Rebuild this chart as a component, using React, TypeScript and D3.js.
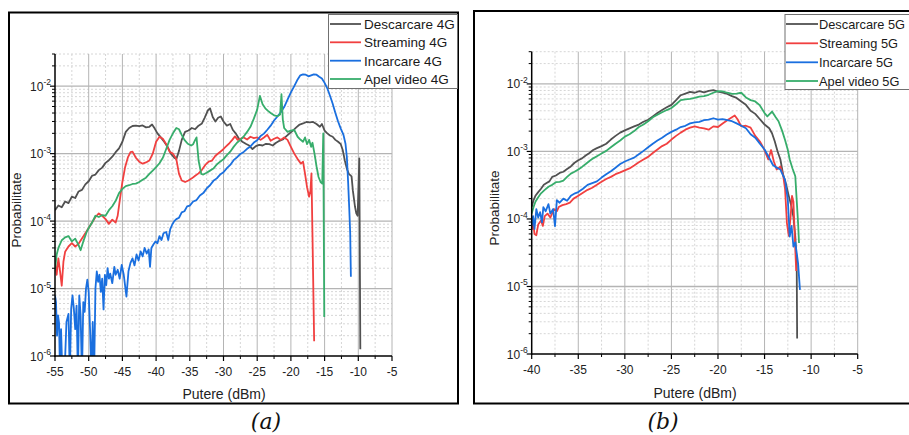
import React from "react";
import * as d3 from "d3";

type Pt = [number, number];

// ---------- labels / ticks ----------
const legend4G = ["Descarcare 4G", "Streaming 4G", "Incarcare 4G", "Apel video 4G"];
const legend5G = ["Descarcare 5G", "Streaming 5G", "Incarcare 5G", "Apel video 5G"];
const xTicks4G = [-55, -50, -45, -40, -35, -30, -25, -20, -15, -10, -5];
const xTicks5G = [-40, -35, -30, -25, -20, -15, -10, -5];
const yTickExps = [-6, -5, -4, -3, -2];
const xTitle = "Putere (dBm)";
const yTitle = "Probabilitate";
const COLORS = ["#515151", "#F14040", "#1A6FDF", "#37AD6B"];

// ---------- 4G data: [dBm, probability] ----------
const descarcare4G: Pt[] = [
  [-55, 1.45e-4], [-54.5, 1.7e-4], [-54, 1.6e-4], [-53.5, 1.95e-4], [-53, 1.85e-4], [-52.5, 2.3e-4],
  [-52, 2.2e-4], [-51.5, 2.75e-4], [-51, 2.9e-4], [-50.5, 3.5e-4], [-50, 3.9e-4], [-49.5, 4.7e-4],
  [-49, 4.9e-4], [-48.5, 5.7e-4], [-48, 6.2e-4], [-47.5, 7.3e-4], [-47, 8.0e-4], [-46.5, 9.0e-4],
  [-46, 1.05e-3], [-45.5, 1.2e-3], [-45, 1.5e-3], [-44.5, 2.1e-3], [-44, 2.4e-3], [-43.5, 2.57e-3],
  [-43, 2.6e-3], [-42.5, 2.55e-3], [-42, 2.62e-3], [-41.5, 2.45e-3], [-41, 2.5e-3], [-40.6, 2.7e-3],
  [-40.2, 2.35e-3], [-39.8, 2.0e-3], [-39.3, 1.74e-3], [-38.8, 1.5e-3], [-38.3, 1.26e-3], [-37.8, 1.0e-3],
  [-37.3, 8.7e-4], [-37, 8.3e-4], [-36.6, 1.1e-3], [-36.2, 1.6e-3], [-35.7, 2.1e-3], [-35.2, 2.2e-3],
  [-34.7, 2.4e-3], [-34.2, 2.3e-3], [-33.7, 2.6e-3], [-33.2, 2.8e-3], [-32.8, 3.4e-3], [-32.3, 4.4e-3],
  [-32, 4.7e-3], [-31.6, 3.5e-3], [-31.2, 3.0e-3], [-30.8, 3.4e-3], [-30.4, 3.55e-3], [-30, 3.0e-3],
  [-29.5, 2.6e-3], [-29, 2.75e-3], [-28.6, 2.24e-3], [-28.2, 2.0e-3], [-27.7, 1.66e-3], [-27.2, 1.5e-3],
  [-26.7, 1.4e-3], [-26.2, 1.32e-3], [-25.7, 1.17e-3], [-25.2, 1.29e-3], [-24.7, 1.35e-3], [-24.2, 1.32e-3],
  [-23.7, 1.4e-3], [-23.2, 1.38e-3], [-22.7, 1.32e-3], [-22.2, 1.45e-3], [-21.7, 1.55e-3], [-21.2, 1.62e-3],
  [-20.7, 1.8e-3], [-20.2, 2.0e-3], [-19.7, 2.2e-3], [-19.2, 2.45e-3], [-18.7, 2.7e-3], [-18.2, 2.8e-3],
  [-17.7, 2.95e-3], [-17.2, 2.9e-3], [-16.7, 2.95e-3], [-16.2, 2.75e-3], [-15.7, 2.5e-3], [-15.4, 2.75e-3],
  [-15, 2.2e-3], [-14.6, 2.0e-3], [-14.2, 1.86e-3], [-13.8, 1.78e-3], [-13.4, 1.6e-3], [-13, 1.5e-3],
  [-12.6, 1.38e-3], [-12.3, 1.12e-3], [-12, 7.9e-4], [-11.7, 6.0e-4], [-11.4, 5.0e-4], [-11, 4.6e-4],
  [-10.8, 2.8e-4], [-10.5, 1.66e-4], [-10.3, 1.3e-4], [-10.1, 1.2e-4], [-9.85, 8.5e-4], [-9.7, 1.26e-6],
];

const streaming4G: Pt[] = [
  [-55, 2.5e-5], [-54.75, 1.6e-5], [-54.5, 2.8e-5], [-54.25, 1.8e-5], [-54, 1.1e-5], [-53.75, 2.5e-5],
  [-53.5, 3.5e-5], [-53, 4.2e-5], [-52.5, 4.7e-5], [-52, 4.2e-5], [-51.5, 4.6e-5], [-51, 5.5e-5],
  [-50.5, 6.6e-5], [-50, 7.9e-5], [-49.5, 9.5e-5], [-49, 1.15e-4], [-48.5, 1.3e-4], [-48, 1.2e-4],
  [-47.5, 1.07e-4], [-47, 9.1e-5], [-46.5, 1.05e-4], [-46, 9.5e-5], [-45.7, 1.2e-4], [-45.4, 2.0e-4],
  [-45, 3.8e-4], [-44.6, 6.3e-4], [-44.2, 8.7e-4], [-43.8, 1.05e-3], [-43.5, 1.07e-3], [-43, 8.7e-4],
  [-42.5, 7.6e-4], [-42, 7.1e-4], [-41.5, 7.4e-4], [-41, 7.9e-4], [-40.5, 1.0e-3], [-40, 1.5e-3],
  [-39.5, 1.78e-3], [-39, 1.66e-3], [-38.5, 1.38e-3], [-38, 1.07e-3], [-37.5, 1.0e-3], [-37, 8.3e-4],
  [-36.6, 5.0e-4], [-36.2, 4.0e-4], [-35.7, 3.8e-4], [-35.2, 4.0e-4], [-34.7, 4.3e-4], [-34.2, 4.7e-4],
  [-33.7, 5.1e-4], [-33.2, 5.75e-4], [-32.7, 6.8e-4], [-32.2, 7.6e-4], [-31.7, 7.9e-4], [-31.2, 9.3e-4],
  [-30.7, 1.02e-3], [-30.2, 1.12e-3], [-29.7, 1.26e-3], [-29.2, 1.4e-3], [-28.7, 1.6e-3], [-28.3, 1.8e-3],
  [-27.9, 1.6e-3], [-27.5, 1.66e-3], [-27, 1.74e-3], [-26.5, 1.62e-3], [-26, 1.78e-3], [-25.5, 1.7e-3],
  [-25, 1.74e-3], [-24.5, 1.6e-3], [-24, 1.74e-3], [-23.5, 1.9e-3], [-23, 1.55e-3], [-22.5, 1.66e-3],
  [-22, 1.74e-3], [-21.5, 1.6e-3], [-21, 1.74e-3], [-20.5, 1.6e-3], [-20, 1.26e-3], [-19.5, 1.0e-3],
  [-19, 8.3e-4], [-18.5, 7.1e-4], [-18.2, 7.6e-4], [-17.9, 5.0e-4], [-17.6, 3.16e-4], [-17.3, 2.3e-4],
  [-17.1, 2.8e-4], [-16.95, 5.1e-4], [-16.8, 6.3e-5], [-16.55, 1.66e-6],
];

const incarcare4G: Pt[] = [
  [-55, 7.9e-6], [-54.85, 6.3e-6], [-54.7, 2.0e-6], [-54.55, 4.0e-6], [-54.4, 3.1e-6], [-54.25, 5e-7],
  [-54.1, 2.5e-6], [-53.9, 5e-7], [-53.6, 5e-7], [-53.3, 3.2e-6], [-53, 4.2e-6], [-52.8, 5e-7],
  [-52.6, 5.0e-6], [-52.4, 7.9e-6], [-52.2, 5.0e-6], [-52, 2.5e-6], [-51.8, 5.6e-6], [-51.6, 5e-7],
  [-51.4, 7.9e-6], [-51.2, 4.0e-6], [-51, 5e-7], [-50.8, 6.3e-6], [-50.6, 4.5e-6], [-50.4, 1.0e-5],
  [-50.2, 1.35e-5], [-50, 8.9e-6], [-49.8, 2.5e-6], [-49.6, 5e-7], [-49.4, 3.2e-6], [-49.2, 5e-7],
  [-49, 1.0e-5], [-48.8, 1.8e-5], [-48.6, 1.26e-5], [-48.4, 1.6e-5], [-48.2, 8.9e-6], [-48, 1.4e-5],
  [-47.8, 4.9e-6], [-47.6, 1.6e-5], [-47.4, 1.12e-5], [-47.2, 2.0e-5], [-47, 1.4e-5], [-46.8, 1.66e-5],
  [-46.5, 1.2e-5], [-46.2, 2.1e-5], [-46, 1.6e-5], [-45.7, 1.9e-5], [-45.4, 1.4e-5], [-45.1, 2.24e-5],
  [-44.8, 1.6e-5], [-44.4, 7.6e-6], [-44.1, 1.8e-5], [-43.8, 2.4e-5], [-43.5, 2.8e-5], [-43.2, 2.2e-5],
  [-42.9, 3.2e-5], [-42.6, 2.6e-5], [-42.3, 3.55e-5], [-42, 3.0e-5], [-41.7, 4.0e-5], [-41.4, 3.3e-5],
  [-41.1, 3.8e-5], [-40.9, 2.1e-5], [-40.7, 4.0e-5], [-40.4, 4.5e-5], [-40.1, 5.0e-5], [-39.8, 4.7e-5],
  [-39.5, 6.0e-5], [-39.2, 5.25e-5], [-38.9, 6.6e-5], [-38.5, 6.9e-5], [-38.2, 5.25e-5], [-37.9, 7.6e-5],
  [-37.6, 8.9e-5], [-37.3, 1.0e-4], [-37, 1.07e-4], [-36.6, 1.12e-4], [-36.2, 1.35e-4], [-35.8, 1.4e-4],
  [-35.4, 1.65e-4], [-35, 1.7e-4], [-34.5, 1.95e-4], [-34, 2.05e-4], [-33.5, 2.4e-4], [-33, 2.6e-4],
  [-32.5, 3.05e-4], [-32, 3.4e-4], [-31.5, 3.95e-4], [-31, 4.3e-4], [-30.5, 4.9e-4], [-30, 5.3e-4],
  [-29.5, 6.1e-4], [-29, 6.8e-4], [-28.5, 8.0e-4], [-28, 8.8e-4], [-27.5, 9.9e-4], [-27, 1.06e-3],
  [-26.5, 1.18e-3], [-26, 1.28e-3], [-25.5, 1.46e-3], [-25, 1.58e-3], [-24.5, 1.82e-3], [-24, 1.98e-3],
  [-23.5, 2.26e-3], [-23, 2.6e-3], [-22.5, 3.1e-3], [-22, 3.55e-3], [-21.5, 4.1e-3], [-21, 4.9e-3],
  [-20.5, 6.3e-3], [-20, 8.1e-3], [-19.5, 1.0e-2], [-19, 1.26e-2], [-18.6, 1.45e-2], [-18.2, 1.5e-2],
  [-17.8, 1.48e-2], [-17.4, 1.4e-2], [-17, 1.45e-2], [-16.6, 1.5e-2], [-16.2, 1.48e-2], [-15.8, 1.38e-2],
  [-15.4, 1.3e-2], [-15, 1.12e-2], [-14.6, 9.3e-3], [-14.2, 7.2e-3], [-13.8, 5.5e-3], [-13.4, 4.0e-3],
  [-13, 3.0e-3], [-12.6, 2.35e-3], [-12.2, 1.9e-3], [-11.9, 1.4e-3], [-11.7, 8.9e-4], [-11.5, 3.6e-4],
  [-11.35, 1.6e-4], [-11.2, 6.6e-5], [-11.1, 1.5e-5],
];

const apelVideo4G: Pt[] = [
  [-55, 1.9e-5], [-54.75, 3.2e-5], [-54.5, 4.0e-5], [-54, 5.2e-5], [-53.5, 5.75e-5], [-53, 6.0e-5],
  [-52.5, 5.0e-5], [-52, 5.5e-5], [-51.5, 4.4e-5], [-51.2, 3.7e-5], [-50.8, 5.0e-5], [-50.3, 6.9e-5],
  [-50, 7.9e-5], [-49.5, 9.5e-5], [-49, 1.2e-4], [-48.5, 1.15e-4], [-48, 1.23e-4], [-47.5, 1.2e-4],
  [-47, 1.45e-4], [-46.5, 1.66e-4], [-46, 2.0e-4], [-45.5, 2.6e-4], [-45, 3.0e-4], [-44.5, 3.3e-4],
  [-44, 3.4e-4], [-43.5, 3.55e-4], [-43, 3.6e-4], [-42.5, 3.8e-4], [-42, 4.1e-4], [-41.5, 4.4e-4],
  [-41, 5.0e-4], [-40.5, 5.6e-4], [-40, 6.3e-4], [-39.5, 7.2e-4], [-39, 8.7e-4], [-38.5, 1.17e-3],
  [-38, 1.6e-3], [-37.5, 2.0e-3], [-37, 2.4e-3], [-36.6, 2.3e-3], [-36.2, 1.9e-3], [-35.8, 1.6e-3],
  [-35.3, 1.4e-3], [-34.8, 1.32e-3], [-34.5, 1.38e-3], [-34.2, 1.6e-3], [-34, 1.74e-3], [-33.7, 7.9e-4],
  [-33.3, 5.0e-4], [-33, 4.9e-4], [-32.5, 5.2e-4], [-32, 5.6e-4], [-31.5, 6.0e-4], [-31, 6.9e-4],
  [-30.5, 7.6e-4], [-30, 8.3e-4], [-29.5, 9.5e-4], [-29, 1.07e-3], [-28.5, 1.26e-3], [-28, 1.45e-3],
  [-27.5, 1.6e-3], [-27, 1.8e-3], [-26.5, 2.1e-3], [-26, 2.5e-3], [-25.5, 3.3e-3], [-25, 4.5e-3],
  [-24.6, 7.2e-3], [-24.2, 5.4e-3], [-23.8, 4.7e-3], [-23.4, 4.3e-3], [-23, 4.0e-3], [-22.5, 3.7e-3],
  [-22, 3.6e-3], [-21.6, 3.8e-3], [-21.4, 7.6e-3], [-21.2, 3.2e-3], [-21, 2.4e-3], [-20.5, 2.1e-3],
  [-20, 2.2e-3], [-19.5, 2.24e-3], [-19, 1.78e-3], [-18.6, 1.62e-3], [-18.2, 1.5e-3], [-17.9, 1.74e-3],
  [-17.6, 1.38e-3], [-17.3, 1.6e-3], [-17, 1.26e-3], [-16.8, 1.45e-3], [-16.5, 1.0e-3], [-16.2, 6.5e-4],
  [-15.9, 4.5e-4], [-15.6, 3.8e-4], [-15.35, 3.6e-4], [-15.2, 2.0e-3], [-15.05, 3.8e-6],
];

// ---------- 5G data: [dBm, probability] ----------
const descarcare5G: Pt[] = [
  [-40, 1.5e-4], [-39.8, 1.9e-4], [-39.6, 2.2e-4], [-39.3, 2.5e-4], [-39, 2.8e-4], [-38.7, 3.2e-4],
  [-38.4, 3.4e-4], [-38.1, 3.6e-4], [-37.8, 4.2e-4], [-37.4, 4.4e-4], [-37, 4.8e-4], [-36.6, 5.0e-4],
  [-36.2, 5.5e-4], [-35.8, 6.0e-4], [-35.4, 6.8e-4], [-35, 7.4e-4], [-34.6, 7.9e-4], [-34.2, 8.7e-4],
  [-33.8, 9.5e-4], [-33.4, 1.05e-3], [-33, 1.12e-3], [-32.5, 1.2e-3], [-32, 1.3e-3], [-31.5, 1.5e-3],
  [-31, 1.7e-3], [-30.5, 1.9e-3], [-30, 2.05e-3], [-29.5, 2.2e-3], [-29, 2.35e-3], [-28.5, 2.5e-3],
  [-28, 2.75e-3], [-27.5, 2.95e-3], [-27, 3.3e-3], [-26.5, 3.7e-3], [-26, 4.1e-3], [-25.5, 4.5e-3],
  [-25, 4.9e-3], [-24.5, 5.75e-3], [-24, 6.8e-3], [-23.5, 7.2e-3], [-23, 7.6e-3], [-22.5, 7.4e-3],
  [-22, 7.8e-3], [-21.5, 7.5e-3], [-21, 7.9e-3], [-20.5, 8.1e-3], [-20, 7.7e-3], [-19.5, 7.4e-3],
  [-19, 7.1e-3], [-18.5, 6.6e-3], [-18, 6.2e-3], [-17.5, 5.5e-3], [-17, 4.9e-3], [-16.5, 4.0e-3],
  [-16, 3.6e-3], [-15.5, 3.0e-3], [-15, 2.5e-3], [-14.5, 2.2e-3], [-14.2, 1.86e-3], [-13.9, 1.4e-3],
  [-13.6, 1.0e-3], [-13.3, 7.6e-4], [-13, 4.5e-4], [-12.7, 3.3e-4], [-12.4, 2.2e-4], [-12.1, 1.5e-4],
  [-11.9, 1.07e-4], [-11.7, 5.5e-5], [-11.55, 2.2e-5], [-11.5, 1.7e-6],
];

const streaming5G: Pt[] = [
  [-40, 6.9e-5], [-39.85, 8.9e-5], [-39.7, 6.0e-5], [-39.5, 5.75e-5], [-39.3, 8.3e-5], [-39, 9.5e-5],
  [-38.8, 7.9e-5], [-38.6, 1.1e-4], [-38.3, 1.2e-4], [-38, 1.05e-4], [-37.6, 1.4e-4], [-37.3, 1.3e-4],
  [-37.1, 1.5e-4], [-36.7, 1.6e-4], [-36.3, 1.66e-4], [-35.9, 1.74e-4], [-35.5, 2.0e-4], [-35, 2.2e-4],
  [-34.5, 2.45e-4], [-34, 2.7e-4], [-33.5, 2.9e-4], [-33, 3.2e-4], [-32.5, 3.55e-4], [-32, 3.9e-4],
  [-31.5, 4.2e-4], [-31, 4.6e-4], [-30.5, 4.9e-4], [-30, 5.25e-4], [-29.5, 5.6e-4], [-29, 6.2e-4],
  [-28.5, 6.9e-4], [-28, 7.6e-4], [-27.5, 8.3e-4], [-27, 9.5e-4], [-26.5, 1.07e-3], [-26, 1.2e-3],
  [-25.5, 1.3e-3], [-25, 1.5e-3], [-24.5, 1.7e-3], [-24, 1.9e-3], [-23.5, 2.1e-3], [-23, 2.25e-3],
  [-22.5, 2.35e-3], [-22, 2.25e-3], [-21.5, 2.2e-3], [-21, 2.1e-3], [-20.5, 2.35e-3], [-20, 2.3e-3],
  [-19.5, 2.6e-3], [-19, 2.9e-3], [-18.5, 3.2e-3], [-18.2, 3.4e-3], [-17.9, 3.0e-3], [-17.5, 2.35e-3],
  [-17, 2.4e-3], [-16.5, 2.25e-3], [-16, 1.7e-3], [-15.5, 1.4e-3], [-15.1, 1.12e-3], [-14.6, 7.6e-4],
  [-14.3, 1.05e-3], [-14, 7.1e-4], [-13.7, 5.4e-4], [-13.3, 6.0e-4], [-13, 4.4e-4], [-12.8, 2.8e-4],
  [-12.6, 8.7e-5], [-12.4, 5.6e-5], [-12.2, 1.1e-4], [-12.05, 2.2e-4], [-11.9, 1.8e-4], [-11.7, 3.5e-5],
  [-11.6, 1.7e-5],
];

const incarcare5G: Pt[] = [
  [-40, 7.8e-5], [-39.85, 1.1e-4], [-39.7, 7.1e-5], [-39.5, 1.4e-4], [-39.3, 1.05e-4], [-39.1, 1.26e-4],
  [-38.9, 8.9e-5], [-38.75, 1.5e-4], [-38.5, 1.3e-4], [-38.2, 1.66e-4], [-38, 1.2e-4], [-37.7, 1.4e-4],
  [-37.5, 7.8e-5], [-37.3, 1.9e-4], [-37, 1.74e-4], [-36.6, 2.0e-4], [-36.2, 1.86e-4], [-35.8, 2.2e-4],
  [-35.35, 2.4e-4], [-35, 2.5e-4], [-34.5, 2.8e-4], [-34, 3.2e-4], [-33.5, 3.4e-4], [-33, 3.6e-4],
  [-32.5, 4.1e-4], [-32, 4.6e-4], [-31.5, 5.1e-4], [-31, 5.75e-4], [-30.5, 6.5e-4], [-30, 7.1e-4],
  [-29.5, 7.6e-4], [-29, 8.1e-4], [-28.5, 9.1e-4], [-28, 1.02e-3], [-27.5, 1.15e-3], [-27, 1.3e-3],
  [-26.5, 1.45e-3], [-26, 1.6e-3], [-25.5, 1.78e-3], [-25, 1.95e-3], [-24.5, 2.1e-3], [-24, 2.3e-3],
  [-23.5, 2.4e-3], [-23, 2.6e-3], [-22.5, 2.7e-3], [-22, 2.75e-3], [-21.5, 2.9e-3], [-21, 2.95e-3],
  [-20.5, 3.1e-3], [-20, 2.95e-3], [-19.5, 3.0e-3], [-19, 2.9e-3], [-18.5, 2.8e-3], [-18, 2.6e-3],
  [-17.5, 2.4e-3], [-17, 2.2e-3], [-16.5, 1.8e-3], [-16, 1.6e-3], [-15.5, 1.3e-3], [-15, 1.07e-3],
  [-14.6, 8.5e-4], [-14.1, 6.3e-4], [-13.7, 5.75e-4], [-13.3, 5.4e-4], [-12.8, 3.8e-4], [-12.5, 1.9e-4],
  [-12.3, 5.5e-5], [-12.1, 7.9e-5], [-11.9, 3.9e-5], [-11.7, 4.5e-5], [-11.4, 2.2e-5], [-11.2, 8.9e-6],
];

const apelVideo5G: Pt[] = [
  [-40, 1.2e-4], [-39.8, 1.5e-4], [-39.6, 1.8e-4], [-39.3, 2.1e-4], [-39, 2.4e-4], [-38.6, 2.7e-4],
  [-38.2, 3.0e-4], [-37.8, 3.2e-4], [-37.4, 3.5e-4], [-37, 3.55e-4], [-36.6, 3.7e-4], [-36.2, 4.2e-4],
  [-35.8, 4.7e-4], [-35.4, 5.0e-4], [-35, 5.4e-4], [-34.6, 5.9e-4], [-34.2, 6.5e-4], [-33.8, 7.2e-4],
  [-33.4, 7.9e-4], [-33, 8.5e-4], [-32.5, 9.3e-4], [-32, 1.02e-3], [-31.5, 1.15e-3], [-31, 1.3e-3],
  [-30.5, 1.45e-3], [-30, 1.66e-3], [-29.5, 1.8e-3], [-29, 2.0e-3], [-28.5, 2.3e-3], [-28, 2.5e-3],
  [-27.5, 2.8e-3], [-27, 3.2e-3], [-26.5, 3.5e-3], [-26, 3.8e-3], [-25.5, 4.1e-3], [-25, 4.4e-3],
  [-24.5, 5.0e-3], [-24, 5.75e-3], [-23.5, 5.9e-3], [-23, 6.0e-3], [-22.5, 6.2e-3], [-22, 6.5e-3],
  [-21.5, 6.6e-3], [-21, 6.9e-3], [-20.5, 7.4e-3], [-20, 7.8e-3], [-19.5, 7.75e-3], [-19, 7.4e-3],
  [-18.5, 7.1e-3], [-18, 7.2e-3], [-17.5, 7.4e-3], [-17, 6.3e-3], [-16.5, 5.75e-3], [-16, 5.5e-3],
  [-15.5, 4.8e-3], [-15, 3.7e-3], [-14.7, 3.3e-3], [-14.2, 3.9e-3], [-13.8, 3.2e-3], [-13.5, 2.8e-3],
  [-13.1, 2.0e-3], [-12.8, 1.48e-3], [-12.5, 1.05e-3], [-12.3, 7.6e-4], [-12, 5.6e-4], [-11.7, 4.3e-4],
  [-11.55, 1.9e-4], [-11.4, 8.7e-5], [-11.3, 4.4e-5],
];

const series4G = [descarcare4G, streaming4G, incarcare4G, apelVideo4G];
const series5G = [descarcare5G, streaming5G, incarcare5G, apelVideo5G];

const FONT = "'Liberation Sans', Arial, sans-serif";

type PanelProps = {
  id: string;
  frame: { x: number; y: number; w: number; h: number };
  plot: { left: number; right: number; top: number; bottom: number };
  xTicks: number[];
  yTop: number;
  series: Pt[][];
  labels: string[];
  legend: { x: number; y: number; w: number; h: number; l0: number; l1: number; tx: number; rows: number[]; fs: number };
  xTickY: number;
  xTitlePos: [number, number];
  yTitlePos: [number, number];
  caption: string;
  captionPos: [number, number];
};

function Panel(p: PanelProps) {
  const { plot } = p;
  const xDom: [number, number] = [p.xTicks[0], p.xTicks[p.xTicks.length - 1]];
  const x = d3.scaleLinear().domain(xDom).range([plot.left, plot.right]);
  const y = d3.scaleLog().domain([1e-6, p.yTop]).range([plot.bottom, plot.top]);

  const minorY: number[] = [];
  yTickExps.forEach((e) => {
    for (let k = 2; k <= 9; k++) {
      const v = k * Math.pow(10, e);
      if (v <= p.yTop * 1.0001) minorY.push(v);
    }
  });
  const majorY = yTickExps.map((e) => Math.pow(10, e));
  const minorX: number[] = [];
  for (let i = 0; i < p.xTicks.length - 1; i++) minorX.push((p.xTicks[i] + p.xTicks[i + 1]) / 2);

  const line = d3
    .line<Pt>()
    .x((d) => x(d[0]))
    .y((d) => y(d[1]));

  return (
    <g>
      <rect x={p.frame.x} y={p.frame.y} width={p.frame.w} height={p.frame.h} fill="white" stroke="#000" strokeWidth={2} />
      <defs>
        <clipPath id={p.id}>
          <rect x={plot.left} y={plot.top} width={plot.right - plot.left} height={plot.bottom - plot.top} />
        </clipPath>
      </defs>
      {minorY.map((v, i) => (
        <line key={"my" + i} x1={plot.left} x2={plot.right} y1={y(v)} y2={y(v)} stroke="#d6d6d6" strokeWidth={1} strokeDasharray="2,2" />
      ))}
      {minorX.map((v, i) => (
        <line key={"mx" + i} x1={x(v)} x2={x(v)} y1={plot.top} y2={plot.bottom} stroke="#d6d6d6" strokeWidth={1} strokeDasharray="2,2" />
      ))}
      {majorY.slice(1).map((v, i) => (
        <line key={"gy" + i} x1={plot.left} x2={plot.right} y1={y(v)} y2={y(v)} stroke="#b4b4b4" strokeWidth={1.3} />
      ))}
      {p.xTicks.slice(1).map((v, i) => (
        <line key={"gx" + i} x1={x(v)} x2={x(v)} y1={plot.top} y2={plot.bottom} stroke="#b4b4b4" strokeWidth={1} />
      ))}
      <g clipPath={`url(#${p.id})`}>
        {p.series.map((s, i) => (
          <path key={i} d={line(s) || ""} fill="none" stroke={COLORS[i]} strokeWidth={1.8} strokeLinejoin="round" />
        ))}
      </g>
      <line x1={plot.left} x2={plot.left} y1={plot.top} y2={plot.bottom + 0.75} stroke="#000" strokeWidth={1.5} />
      <line x1={plot.left - 0.75} x2={plot.right} y1={plot.bottom} y2={plot.bottom} stroke="#000" strokeWidth={1.5} />
      {majorY.map((v, i) => (
        <line key={"ty" + i} x1={plot.left - 5} x2={plot.left} y1={y(v)} y2={y(v)} stroke="#000" strokeWidth={1.2} />
      ))}
      {minorY.map((v, i) => (
        <line key={"tmy" + i} x1={plot.left - 3} x2={plot.left} y1={y(v)} y2={y(v)} stroke="#000" strokeWidth={1} />
      ))}
      {p.xTicks.map((v, i) => (
        <line key={"tx" + i} x1={x(v)} x2={x(v)} y1={plot.bottom} y2={plot.bottom + 5} stroke="#000" strokeWidth={1.2} />
      ))}
      {minorX.map((v, i) => (
        <line key={"tmx" + i} x1={x(v)} x2={x(v)} y1={plot.bottom} y2={plot.bottom + 3} stroke="#000" strokeWidth={1} />
      ))}
      {majorY.map((v, i) => (
        <text key={"ly" + i} x={plot.left - 4} y={y(v) + 4.5} textAnchor="end" fontFamily={FONT} fontSize={12} fill="#222">
          <tspan>10</tspan>
          <tspan dy={-5.5} fontSize={8.5}>{String(yTickExps[i])}</tspan>
        </text>
      ))}
      {p.xTicks.map((v, i) => (
        <text key={"lx" + i} x={x(v)} y={p.xTickY} textAnchor="middle" fontFamily={FONT} fontSize={12} fill="#222">
          {String(v)}
        </text>
      ))}
      <text x={p.xTitlePos[0]} y={p.xTitlePos[1]} textAnchor="middle" fontFamily={FONT} fontSize={14} fill="#222">
        {xTitle}
      </text>
      <text
        transform={`translate(${p.yTitlePos[0]},${p.yTitlePos[1]}) rotate(-90)`}
        textAnchor="middle"
        fontFamily={FONT}
        fontSize={13.5}
        fill="#222"
      >
        {yTitle}
      </text>
      <rect x={p.legend.x} y={p.legend.y} width={p.legend.w} height={p.legend.h} fill="white" stroke="#707070" strokeWidth={1} />
      {p.labels.map((lab, i) => (
        <g key={"lg" + i}>
          <line x1={p.legend.l0} x2={p.legend.l1} y1={p.legend.rows[i]} y2={p.legend.rows[i]} stroke={COLORS[i]} strokeWidth={1.8} />
          <text x={p.legend.tx} y={p.legend.rows[i] + 4.8} fontFamily={FONT} fontSize={p.legend.fs} fill="#1a1a1a">
            {lab}
          </text>
        </g>
      ))}
      <text
        x={p.captionPos[0]}
        y={p.captionPos[1]}
        textAnchor="middle"
        fontFamily="'DejaVu Serif', 'Liberation Serif', serif"
        fontStyle="italic"
        fontSize={22}
        fill="#111"
      >
        {p.caption}
      </text>
    </g>
  );
}

export default function App() {
  return (
    <svg
      width={909}
      height={435}
      viewBox="0 0 909 435"
      style={{ position: "absolute", left: 0, top: 0, display: "block", background: "white" }}
    >
      <rect x={0} y={0} width={909} height={435} fill="white" />
      <Panel
        id="clipA"
        frame={{ x: 9, y: 12.5, w: 449, h: 391 }}
        plot={{ left: 55, right: 392, top: 54, bottom: 356 }}
        xTicks={xTicks4G}
        yTop={0.03}
        series={series4G}
        labels={legend4G}
        legend={{ x: 328.5, y: 14.5, w: 129, h: 74, l0: 330, l1: 361, tx: 364, rows: [24, 42.3, 60.7, 79], fs: 13.5 }}
        xTickY={376}
        xTitlePos={[224, 399]}
        yTitlePos={[21, 210]}
        caption="(a)"
        captionPos={[266, 429]}
      />
      <Panel
        id="clipB"
        frame={{ x: 474, y: 11, w: 445, h: 392.5 }}
        plot={{ left: 531.7, right: 857.7, top: 51.7, bottom: 354 }}
        xTicks={xTicks5G}
        yTop={0.03}
        series={series5G}
        labels={legend5G}
        legend={{ x: 785, y: 14.5, w: 130, h: 75, l0: 786, l1: 818, tx: 819, rows: [24, 43.3, 62.3, 81], fs: 12.8 }}
        xTickY={374}
        xTitlePos={[695, 398]}
        yTitlePos={[499, 208]}
        caption="(b)"
        captionPos={[663, 429]}
      />
    </svg>
  );
}
